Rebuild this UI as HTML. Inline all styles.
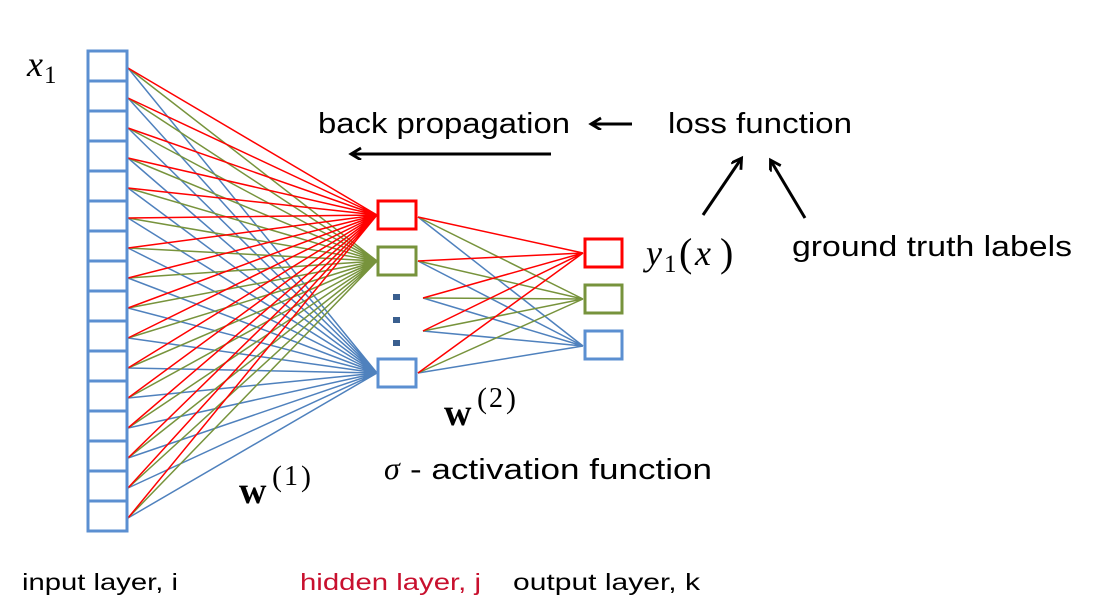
<!DOCTYPE html>
<html><head><style>html,body{margin:0;padding:0;background:#fff}svg{display:block}</style></head><body>
<svg width="1099" height="616" viewBox="0 0 1099 616" xmlns="http://www.w3.org/2000/svg">
<defs>
<marker id="ah" markerWidth="14" markerHeight="14" refX="10" refY="6" orient="auto" markerUnits="userSpaceOnUse"><path d="M1,0 L11,6 L1,12" fill="none" stroke="#000" stroke-width="2.8"/></marker>
</defs>
<g fill="none" stroke-width="1.5">
<path stroke="#4f81bd" d="M128 68L377 373M128 98L377 373M128 128L377 373M128 158L377 373M128 188L377 373M128 218L377 373M128 248L377 373M128 278L377 373M128 308L377 373M128 338L377 373M128 368L377 373M128 398L377 373M128 428L377 373M128 458L377 373M128 488L377 373M128 518L377 373"/>
<path stroke="#77933c" d="M128 68L377 261M128 98L377 261M128 128L377 261M128 158L377 261M128 188L377 261M128 218L377 261M128 248L377 261M128 278L377 261M128 308L377 261M128 338L377 261M128 368L377 261M128 398L377 261M128 428L377 261M128 458L377 261M128 488L377 261M128 518L377 261"/>
<path stroke="#ff0000" d="M128 68L377 215M128 98L377 215M128 128L377 215M128 158L377 215M128 188L377 215M128 218L377 215M128 248L377 215M128 278L377 215M128 308L377 215M128 338L377 215M128 368L377 215M128 398L377 215M128 428L377 215M128 458L377 215M128 488L377 215M128 518L377 215"/>
<path stroke="#4f81bd" d="M418 217L583 346M418 261L583 346M423 298L583 346M423 331L583 346M418 373L583 346"/>
<path stroke="#77933c" d="M418 217L583 299M418 261L583 299M423 298L583 299M423 331L583 299M418 373L583 299"/>
<path stroke="#ff0000" d="M418 217L583 253M418 261L583 253M423 298L583 253M423 331L583 253M418 373L583 253"/>
</g>
<g fill="#fff" stroke="#5b8fd1" stroke-width="3">
<rect x="88" y="51" width="39" height="30"/><rect x="88" y="81" width="39" height="30"/><rect x="88" y="111" width="39" height="30"/><rect x="88" y="141" width="39" height="30"/>
<rect x="88" y="171" width="39" height="30"/><rect x="88" y="201" width="39" height="30"/><rect x="88" y="231" width="39" height="30"/><rect x="88" y="261" width="39" height="30"/>
<rect x="88" y="291" width="39" height="30"/><rect x="88" y="321" width="39" height="30"/><rect x="88" y="351" width="39" height="30"/><rect x="88" y="381" width="39" height="30"/>
<rect x="88" y="411" width="39" height="30"/><rect x="88" y="441" width="39" height="30"/><rect x="88" y="471" width="39" height="30"/><rect x="88" y="501" width="39" height="30"/>
</g>
<rect x="378" y="201" width="38" height="28" fill="#fff" stroke="#ff0000" stroke-width="3"/>
<rect x="378" y="247" width="38" height="28" fill="#fff" stroke="#77933c" stroke-width="3"/>
<rect x="378" y="359" width="38" height="28" fill="#fff" stroke="#5b8fd1" stroke-width="3"/>
<rect x="585" y="239" width="37" height="28" fill="#fff" stroke="#ff0000" stroke-width="3"/>
<rect x="585" y="285" width="37" height="28" fill="#fff" stroke="#77933c" stroke-width="3"/>
<rect x="585" y="331" width="37" height="28" fill="#fff" stroke="#5b8fd1" stroke-width="3"/>
<g fill="#3a5f8f"><rect x="393" y="294" width="7" height="6"/><rect x="393" y="317" width="7" height="6"/><rect x="393" y="340" width="7" height="6"/></g>
<g stroke="#000" stroke-width="3" fill="none" marker-end="url(#ah)">
<line x1="632" y1="124" x2="592" y2="124"/>
<line x1="551" y1="154" x2="352" y2="154"/>
<line x1="703" y1="215" x2="741" y2="159"/>
<line x1="805" y1="218" x2="771" y2="161"/>
</g>
<g font-family="Liberation Sans, sans-serif" fill="#000">
<text x="318" y="133" font-size="29" textLength="252" lengthAdjust="spacingAndGlyphs">back propagation</text>
<text x="668" y="133" font-size="29" textLength="184" lengthAdjust="spacingAndGlyphs">loss function</text>
<text x="792" y="256" font-size="29" textLength="280" lengthAdjust="spacingAndGlyphs">ground truth labels</text>
<text x="410" y="479" font-size="29" textLength="302" lengthAdjust="spacingAndGlyphs">- activation function</text>
<text x="22" y="590" font-size="23" textLength="156" lengthAdjust="spacingAndGlyphs">input layer, i</text>
<text x="300" y="590" font-size="23" fill="#c8102e" textLength="181" lengthAdjust="spacingAndGlyphs">hidden layer, j</text>
<text x="513" y="590" font-size="23" textLength="187" lengthAdjust="spacingAndGlyphs">output layer, k</text>
</g>
<g font-family="Liberation Serif, serif" fill="#000">
<text x="27" y="76" font-size="36" font-style="italic">x</text><text x="44" y="83" font-size="25">1</text>
<text x="646" y="265" font-size="36" font-style="italic">y</text><text x="664" y="272" font-size="25">1</text>
<text x="679" y="266" font-size="40">(</text><text x="695" y="265" font-size="36" font-style="italic">x</text><text x="720" y="266" font-size="40">)</text>
<text x="384" y="479" font-size="32" font-style="italic">σ</text>
<text x="444" y="425" font-size="38" font-weight="bold">w</text>
<text x="477" y="408" font-size="30">(</text><text x="489" y="407" font-size="28">2</text><text x="506" y="408" font-size="30">)</text>
<text x="239" y="503" font-size="38" font-weight="bold">w</text>
<text x="272" y="486" font-size="30">(</text><text x="284" y="485" font-size="28">1</text><text x="301" y="486" font-size="30">)</text>
</g>
</svg>
</body></html>
